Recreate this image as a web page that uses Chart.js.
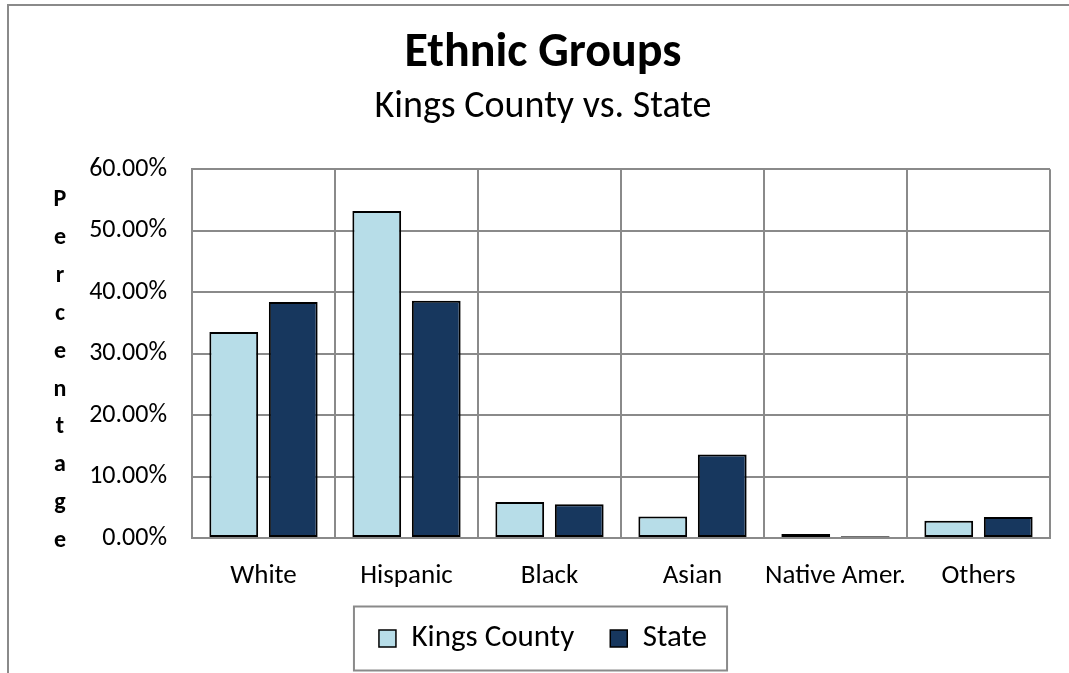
<!DOCTYPE html>
<html>
<head>
<meta charset="utf-8">
<script src="https://cdn.jsdelivr.net/npm/chart.js@4/dist/chart.umd.min.js"></script>
<style>
  html, body { margin: 0; padding: 0; background: #fff; overflow: hidden; }
  canvas { display: block; }
</style>
</head>
<body>
<canvas id="myChart" width="1069" height="673"></canvas>
<script>
const categories = ['White', 'Hispanic', 'Black', 'Asian', 'Native Amer.', 'Others'];
const kingsCounty = [33.5, 53.2, 5.85, 3.5, 0.65, 2.8];
const state = [38.4, 38.6, 5.5, 13.6, 0.3, 3.4];
const yMax = 60;
const yStep = 10;
const yTitle = 'Percentage';

const FONT = 'Calibri, Carlito, Lato, sans-serif';
const GRID = '#8a8a8a';

// outer chart frame (only top and left edges are in view)
const framePlugin = {
    id: 'frame',
    beforeDraw: (chart) => {
        const ctx = chart.ctx;
        ctx.save();
        ctx.fillStyle = '#fff';
        ctx.fillRect(0, 0, chart.width, chart.height);
        ctx.strokeStyle = GRID;
        ctx.lineWidth = 2;
        ctx.beginPath();
        ctx.moveTo(8, chart.height);
        ctx.lineTo(8, 5);
        ctx.lineTo(chart.width, 5);
        ctx.stroke();
        ctx.restore();
    }
};

// stacked letters axis title + box round the legend
const extrasPlugin = {
    id: 'extras',
    afterDraw: (chart) => {
        const ctx = chart.ctx;
        const area = chart.chartArea;
        ctx.save();
        ctx.fillStyle = '#000';
        ctx.font = 'bold 24px ' + FONT;
        ctx.textAlign = 'center';
        ctx.textBaseline = 'middle';
        const letters = yTitle.split('');
        const y0 = area.top + 31;
        const y1 = area.bottom + 3;
        const step = (y1 - y0) / (letters.length - 1);
        letters.forEach((l, i) => ctx.fillText(l, 60, y0 + i * step));

        const boxes = chart.legend.legendHitBoxes;
        if (boxes && boxes.length) {
            const first = boxes[0];
            const last = boxes[boxes.length - 1];
            const cy = first.top + first.height / 2;
            const left = first.left - 25;
            const right = last.left + last.width + 20;
            ctx.strokeStyle = GRID;
            ctx.lineWidth = 2;
            ctx.strokeRect(left, cy - 32, right - left, 64);
        }
        ctx.restore();
    }
};

const ctx = document.getElementById('myChart').getContext('2d');
const config = {
    type: 'bar',
    data: {
        labels: categories,
        datasets: [{
            label: 'Kings County',
            data: kingsCounty,
            backgroundColor: '#b7dde8',
            borderColor: '#000',
            borderWidth: 2,
            borderSkipped: false
        }, {
            label: 'State',
            data: state,
            backgroundColor: '#17375e',
            borderColor: '#000',
            borderWidth: 2,
            borderSkipped: false
        }]
    },
    options: {
        responsive: false,
        animation: false,
        categoryPercentage: 0.832,
        barPercentage: 0.82,
        layout: {
            padding: { left: 36, right: 19, top: 25, bottom: 9 }
        },
        plugins: {
            title: {
                display: true,
                text: 'Ethnic Groups',
                color: '#000',
                font: { family: FONT, size: 48, weight: 'bold' },
                padding: { top: 0, bottom: 0 }
            },
            subtitle: {
                display: true,
                text: 'Kings County vs. State',
                color: '#000',
                font: { family: FONT, size: 38 },
                padding: { top: 2, bottom: 39 }
            },
            legend: {
                position: 'bottom',
                labels: {
                    color: '#000',
                    font: { family: FONT, size: 31 },
                    boxWidth: 17,
                    boxHeight: 17,
                    padding: 36,
                    generateLabels: (chart) => {
                        return chart.data.datasets.map((ds, i) => ({
                            text: ds.label,
                            fillStyle: ds.backgroundColor,
                            strokeStyle: '#000',
                            lineWidth: 1.5,
                            datasetIndex: i,
                            fontColor: '#000'
                        }));
                    }
                }
            },
            tooltip: { enabled: false }
        },
        scales: {
            x: {
                grid: { color: GRID, lineWidth: 2, drawTicks: false },
                border: { color: GRID, width: 2 },
                ticks: {
                    color: '#000',
                    font: { family: FONT, size: 27 },
                    padding: 22,
                    maxRotation: 0,
                    autoSkip: false
                },
                afterFit: (scale) => { scale.height = 49; }
            },
            y: {
                min: 0,
                max: yMax,
                grid: { color: GRID, lineWidth: 2, drawTicks: false },
                border: { color: GRID, width: 2 },
                ticks: {
                    stepSize: yStep,
                    color: '#000',
                    font: { family: FONT, size: 26 },
                    padding: 25,
                    callback: (v) => v.toFixed(2) + '%'
                },
                afterFit: (scale) => { scale.width = 156; }
            }
        }
    },
    plugins: [framePlugin, extrasPlugin]
};

const myChart = new Chart(ctx, config);
</script>
</body>
</html>
